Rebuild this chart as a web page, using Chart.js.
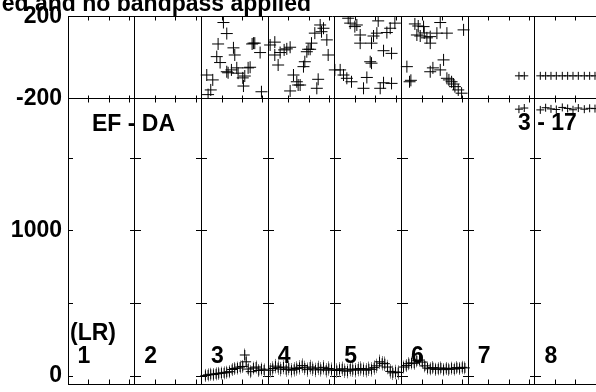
<!DOCTYPE html>
<html>
<head>
<meta charset="utf-8">
<script src="https://cdn.jsdelivr.net/npm/chart.js@4/dist/chart.umd.min.js"></script>
<style>
html, body { margin: 0; padding: 0; background: #fff; overflow: hidden; }
canvas { display: block; }
</style>
</head>
<body>
<canvas id="grafico" width="596" height="392"></canvas>
<script>
// etiquetas de cada linea de base (paneles)
const panelLabels = ['1', '2', '3', '4', '5', '6', '7', '8'];
const panelEdges = [0, 1, 2, 3, 4, 5, 6, 7];
const phaseTicks = [-200, 0, 200];
const phaseTickLabels = [-200, 200];
const ampTicks = [0, 500, 1000, 1500];
const ampTickLabels = [0, 1000];

// fase (grados), paneles 3 a 6
const phaseTime = [
    2.08, 2.10, 2.14, 2.17, 2.23, 2.25, 2.28, 2.33, 2.38, 2.38, 2.40, 2.45, 2.48, 2.50, 2.53, 2.55, 2.62, 2.63, 2.65, 2.70, 2.73, 2.76, 2.78, 2.80, 2.88, 2.90,
    3.03, 3.10, 3.10, 3.15, 3.18, 3.24, 3.28, 3.33, 3.33, 3.38, 3.43, 3.45, 3.48, 3.53, 3.55, 3.58, 3.60, 3.63, 3.65, 3.70, 3.73, 3.75, 3.78, 3.80, 3.83, 3.88, 3.90,
    4.00, 4.08, 4.13, 4.18, 4.20, 4.23, 4.25, 4.30, 4.33, 4.38, 4.38, 4.43, 4.48, 4.53, 4.55, 4.55, 4.58, 4.63, 4.65, 4.68, 4.73, 4.73, 4.78, 4.83, 4.85, 4.85, 4.90,
    5.08, 5.12, 5.14, 5.20, 5.23, 5.25, 5.28, 5.33, 5.34, 5.38, 5.43, 5.43, 5.43, 5.47, 5.53, 5.58, 5.58, 5.63, 5.68, 5.68, 5.71, 5.75, 5.78, 5.80, 5.85, 5.90, 5.93
];
const phaseDeg = [
    -86, -182, -159, -110, 4, 66, -25, 171, 117, -70, -75, -61, 47, 12, -51, -77, -100, -140, -91, -51, -48, 66, 70, 70, 24, -168,
    61, 75, 12, -37, 24, 37, 42, 50, -164, -86, -119, -135, -135, -45, -21, 28, 40, 40, 70, 119, -151, -107, 159, 126, 143, 86, 12,
    -61, -61, -86, -102, 192, 168, -119, 151, 159, 110, 70, -151, -98, -21, 70, -28, 105, 119, 179, -151, -124, 33, 122, 143, 20, -127, 168,
    -45, -119, -112, 164, 110, 154, 105, 151, 120, 96, 102, 70, -70, -51, 119, 171, -61, -12, 119, -102, -110, -119, -130, -143, -159, -175, 135
];

// amplitud, paneles 3 a 6
const ampTime = [
    2.06, 2.10, 2.14, 2.18, 2.22, 2.26, 2.30, 2.34, 2.38, 2.42, 2.46, 2.50, 2.54, 2.58, 2.62, 2.65, 2.67, 2.70, 2.74, 2.78, 2.82, 2.86, 2.90, 2.94,
    3.03, 3.07, 3.11, 3.15, 3.19, 3.23, 3.27, 3.31, 3.35, 3.39, 3.43, 3.47, 3.51, 3.55, 3.59, 3.63, 3.67, 3.71, 3.75, 3.79, 3.83, 3.87, 3.91, 3.95,
    4.03, 4.07, 4.11, 4.15, 4.19, 4.23, 4.27, 4.31, 4.35, 4.39, 4.43, 4.47, 4.51, 4.55, 4.59, 4.63, 4.67, 4.71, 4.75, 4.79, 4.83, 4.87, 4.91, 4.95,
    5.03, 5.07, 5.11, 5.15, 5.19, 5.23, 5.27, 5.31, 5.35, 5.39, 5.43, 5.47, 5.51, 5.55, 5.59, 5.63, 5.67, 5.71, 5.75, 5.79, 5.83, 5.87, 5.91, 5.95
];
const ampVal = [
    4, 8, 12, 10, 15, 18, 20, 22, 26, 30, 45, 52, 55, 62, 66, 145, 98, 48, 30, 55, 62, 38, 48, 42,
    40, 52, 68, 58, 48, 62, 44, 55, 40, 46, 52, 60, 72, 56, 44, 62, 50, 42, 56, 46, 60, 40, 52, 44,
    38, 46, 50, 36, 34, 48, 44, 40, 48, 52, 44, 40, 50, 46, 58, 70, 98, 88, 85, 62, 32, 22, 28, 24,
    62, 72, 85, 90, 88, 105, 110, 96, 70, 55, 50, 58, 46, 50, 56, 44, 52, 46, 54, 48, 58, 52, 60, 56
];
// barra de error tipica por panel
const ampErrByPanel = [0, 0, 45, 50, 50, 45, 0, 0];

// linea de base 3 - 17 (paneles 7 y 8)
const refTime = [6.76, 6.84, 7.08, 7.16, 7.24, 7.32, 7.41, 7.49, 7.57, 7.65, 7.74, 7.82, 7.90];
const refPhase = [-90, -90, -90, -90, -90, -90, -90, -90, -90, -90, -90, -90, -90];
const refAmp = [1840, 1848, 1835, 1850, 1842, 1838, 1852, 1845, 1836, 1848, 1840, 1846, 1844];

const fuente = '"Liberation Sans", Arial, sans-serif';

function puntos(xs, ys) {
    return xs.map((x, i) => ({ x: x, y: ys[i] }));
}

function fijarTicks(valores) {
    return s => { s.ticks = valores.map(v => ({ value: v })); };
}

// marcas pequeñas, barras de error y textos sobre el grafico
const anotaciones = {
    id: 'anotaciones',
    beforeDatasetsDraw(chart) {
        const { ctx, chartArea } = chart;
        const x = chart.scales.x;
        const yP = chart.scales.yP;
        const yA = chart.scales.yA;
        const al = v => Math.round(v - 0.5) + 0.5;
        const top = al(chartArea.top);
        const sep = al(yP.getPixelForValue(-200));
        const bottom = al(chartArea.bottom);
        ctx.save();
        ctx.strokeStyle = '#000';
        ctx.lineWidth = 1;
        ctx.beginPath();
        for (let i = 0; i < panelLabels.length; i++) {
            [0.31, 0.615, 0.92].forEach(f => {
                const px = al(x.getPixelForValue(i + f));
                if (px > chartArea.right) return;
                ctx.moveTo(px, top); ctx.lineTo(px, top + 4);
                ctx.moveTo(px, sep - 3); ctx.lineTo(px, sep + 4);
                ctx.moveTo(px, bottom); ctx.lineTo(px, bottom - 5);
            });
        }
        ampTicks.forEach(v => {
            const py = al(yA.getPixelForValue(v));
            ctx.moveTo(chartArea.left, py); ctx.lineTo(chartArea.left + 5, py);
            for (let i = 1; i < panelLabels.length; i++) {
                const px = Math.round(x.getPixelForValue(i));
                ctx.moveTo(px - 5, py); ctx.lineTo(px + 6, py);
            }
        });
        ctx.stroke();

        // barras de error de la amplitud
        ctx.strokeStyle = '#808080';
        ctx.beginPath();
        ampTime.forEach((t, i) => {
            const e = ampErrByPanel[Math.floor(t)];
            const px = al(x.getPixelForValue(t));
            ctx.moveTo(px, yA.getPixelForValue(ampVal[i] + e));
            ctx.lineTo(px, Math.min(yA.getPixelForValue(ampVal[i] - e), chartArea.bottom));
        });
        ctx.stroke();
        ctx.restore();
    },
    afterDraw(chart) {
        const { ctx } = chart;
        const x = chart.scales.x;
        ctx.save();
        ctx.fillStyle = '#000';
        ctx.font = 'bold 23px ' + fuente;
        ctx.textBaseline = 'alphabetic';
        ctx.textAlign = 'right';
        ctx.fillText('ed and no bandpass applied', 311, 11);
        ctx.textAlign = 'left';
        ctx.fillText('EF - DA', 92, 131);
        ctx.fillText('3 - 17', 518, 130);
        ctx.fillText('(LR)', 70, 340);
        panelLabels.forEach((lab, i) => {
            ctx.fillText(lab, x.getPixelForValue(i) + 9.5, 363);
        });
        ctx.restore();
    }
};

function crearGrafico() {
    const ctx = document.getElementById('grafico').getContext('2d');
    new Chart(ctx, {
        type: 'scatter',
        data: {
            datasets: [
                {
                    label: 'fase',
                    data: puntos(phaseTime, phaseDeg),
                    yAxisID: 'yP',
                    pointStyle: 'cross',
                    pointRadius: 6,
                    borderColor: '#000',
                    backgroundColor: '#000',
                    borderWidth: 1
                },
                {
                    label: 'amplitud',
                    data: puntos(ampTime, ampVal),
                    yAxisID: 'yA',
                    pointStyle: 'cross',
                    pointRadius: 5,
                    borderColor: '#000',
                    backgroundColor: '#000',
                    borderWidth: 1
                },
                {
                    label: 'fase 3 - 17',
                    data: puntos(refTime, refPhase),
                    yAxisID: 'yP',
                    pointStyle: 'cross',
                    pointRadius: 4,
                    borderColor: '#000',
                    backgroundColor: '#000',
                    borderWidth: 1
                },
                {
                    label: 'amplitud 3 - 17',
                    data: puntos(refTime, refAmp),
                    yAxisID: 'yA',
                    pointStyle: 'cross',
                    pointRadius: 4,
                    borderColor: '#000',
                    backgroundColor: '#000',
                    borderWidth: 1
                }
            ]
        },
        options: {
            responsive: false,
            animation: false,
            devicePixelRatio: 1,
            layout: { autoPadding: false, padding: { top: 16.6, left: 0, right: 0, bottom: 0 } },
            plugins: {
                legend: { display: false },
                tooltip: { enabled: false }
            },
            scales: {
                x: {
                    type: 'linear',
                    position: 'bottom',
                    min: 0,
                    max: 7.915,
                    ticks: { display: false },
                    afterBuildTicks: fijarTicks(panelEdges),
                    grid: { color: '#000', lineWidth: 1, drawTicks: false },
                    border: { display: true, color: '#000', width: 1 },
                    afterFit: s => { s.height = 8; s.paddingLeft = 0; s.paddingRight = 0; }
                },
                yA: {
                    type: 'linear',
                    position: 'left',
                    stack: 'v',
                    stackWeight: 285.7,
                    weight: 0,
                    min: -55,
                    max: 1915,
                    afterBuildTicks: fijarTicks(ampTicks),
                    ticks: {
                        padding: 6,
                        color: '#000',
                        font: { family: fuente, size: 23, weight: 'bold' },
                        callback: v => ampTickLabels.includes(v) ? String(v) : ''
                    },
                    grid: { display: false, drawTicks: false },
                    border: { display: true, color: '#000', width: 1 },
                    afterFit: s => { s.width = 68; s.paddingTop = 0; s.paddingBottom = 0; }
                },
                yP: {
                    type: 'linear',
                    position: 'left',
                    stack: 'v',
                    stackWeight: 81.7,
                    weight: 1,
                    min: -200,
                    max: 200,
                    afterBuildTicks: fijarTicks(phaseTicks),
                    ticks: {
                        padding: 6,
                        color: '#000',
                        font: { family: fuente, size: 23, weight: 'bold' },
                        callback: v => phaseTickLabels.includes(v) ? String(v) : ''
                    },
                    grid: { color: '#000', lineWidth: 1, drawTicks: false },
                    border: { display: true, color: '#000', width: 1 },
                    afterFit: s => { s.width = 68; s.paddingTop = 0; s.paddingBottom = 0; }
                }
            }
        },
        plugins: [anotaciones]
    });
}

document.addEventListener('DOMContentLoaded', function() {
    crearGrafico();
});
</script>
</body>
</html>
